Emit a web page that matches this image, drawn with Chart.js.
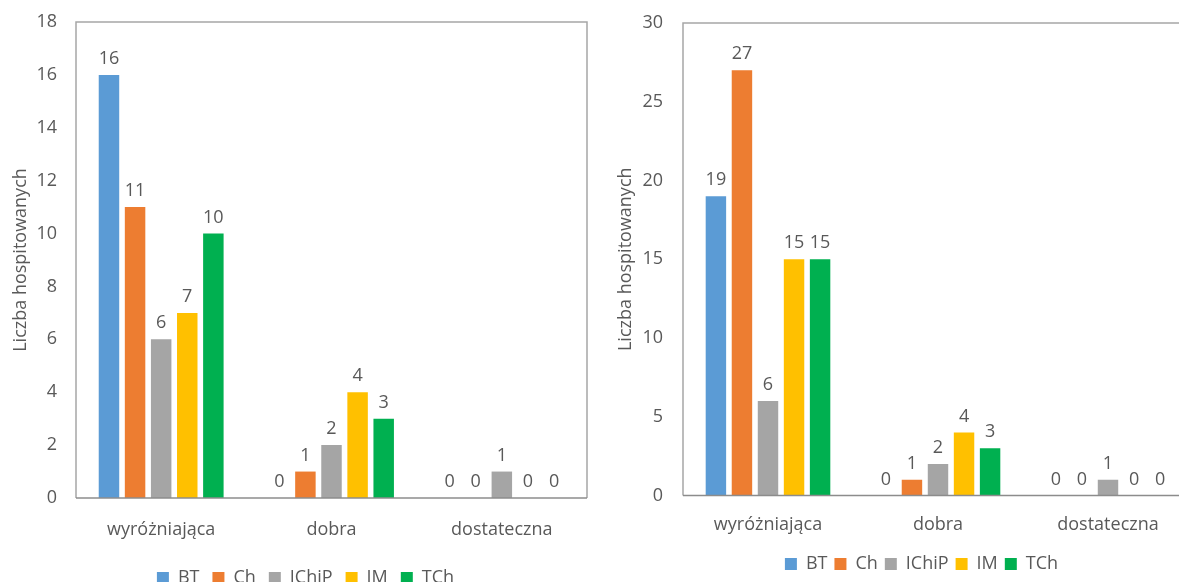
<!DOCTYPE html>
<html>
<head>
<meta charset="utf-8">
<script src="https://cdn.jsdelivr.net/npm/chart.js@4.4.1/dist/chart.umd.min.js"></script>
<style>
  html, body { margin: 0; padding: 0; background: #fff; overflow: hidden; width: 1179px; height: 582px; }
  .box { position: absolute; top: 0; height: 600px; }
  #left { left: 0; width: 590px; }
  #right { left: 600px; width: 593px; }
</style>
</head>
<body>
<div class="box" id="left"><canvas id="chartLeft"></canvas></div>
<div class="box" id="right"><canvas id="chartRight"></canvas></div>
<script>
const categories = ["wyróżniająca", "dobra", "dostateczna"];
const seriesNames = ["BT", "Ch", "IChiP", "IM", "TCh"];
const seriesColors = ["#5B9BD5", "#ED7D31", "#A5A5A5", "#FFC000", "#00B050"];

// one row per series: [wyróżniająca, dobra, dostateczna]
const leftBT = [16, 0, 0];
const leftCh = [11, 1, 0];
const leftIChiP = [6, 2, 1];
const leftIM = [7, 4, 0];
const leftTCh = [10, 3, 0];

const rightBT = [19, 0, 0];
const rightCh = [27, 1, 0];
const rightIChiP = [6, 2, 1];
const rightIM = [15, 4, 0];
const rightTCh = [15, 3, 0];

const leftTicks = [0, 2, 4, 6, 8, 10, 12, 14, 16, 18];
const rightTicks = [0, 5, 10, 15, 20, 25, 30];

const textColor = "#595959";
const font = { family: "'Open Sans', sans-serif", size: 18 };

// value above every bar (no datalabels plugin available offline)
const valueLabels = {
  id: "valueLabels",
  afterDatasetsDraw(chart) {
    const ctx = chart.ctx;
    ctx.save();
    ctx.font = "18px 'Open Sans', sans-serif";
    ctx.fillStyle = textColor;
    ctx.textAlign = "center";
    ctx.textBaseline = "alphabetic";
    chart.data.datasets.forEach((ds, i) => {
      chart.getDatasetMeta(i).data.forEach((bar, j) => {
        ctx.fillText(ds.data[j], bar.x, bar.y - 11);
      });
    });
    ctx.restore();
  }
};

// Excel style plot area frame
const plotFrame = {
  id: "plotFrame",
  afterDatasetsDraw(chart) {
    const { ctx, chartArea: a } = chart;
    ctx.save();
    ctx.lineWidth = 1.5;
    ctx.strokeStyle = "#a6a6a6";
    ctx.beginPath();
    ctx.moveTo(a.left, a.bottom);
    ctx.lineTo(a.left, a.top);
    ctx.lineTo(a.right, a.top);
    ctx.lineTo(a.right, a.bottom);
    ctx.stroke();
    ctx.strokeStyle = "#8c8c8c";
    ctx.beginPath();
    ctx.moveTo(a.left, a.bottom);
    ctx.lineTo(a.right, a.bottom);
    ctx.stroke();
    ctx.restore();
  }
};

// move the legend sideways after layout
const legendShift = {
  id: "legendShift",
  afterLayout(chart, args, opts) {
    chart.legend.left += opts.dx;
    chart.legend.right += opts.dx;
  }
};

function makeChart(id, rows, ticks, cfg) {
  const ctx = document.getElementById(id).getContext("2d");
  return new Chart(ctx, {
    type: "bar",
    data: {
      labels: categories,
      datasets: rows.map((row, i) => ({
        label: seriesNames[i],
        data: row,
        backgroundColor: seriesColors[i],
        borderWidth: 0,
        categoryPercentage: 0.766,
        barPercentage: 0.785
      }))
    },
    options: {
      responsive: true,
      maintainAspectRatio: false,
      animation: false,
      layout: { padding: cfg.padding },
      scales: {
        x: {
          grid: { display: false, drawTicks: false },
          border: { display: false },
          ticks: { color: textColor, font: font, padding: cfg.xPad, maxRotation: 0 },
          afterFit(scale) { scale.height = cfg.xHeight; }
        },
        y: {
          min: ticks[0],
          max: ticks[ticks.length - 1],
          afterBuildTicks(scale) { scale.ticks = ticks.map(v => ({ value: v })); },
          grid: { display: false, drawTicks: false },
          border: { display: false },
          ticks: { color: textColor, font: font, padding: cfg.yPad },
          title: {
            display: true,
            text: "Liczba hospitowanych",
            color: textColor,
            font: font,
            padding: { top: cfg.titlePad, bottom: 0 }
          },
          afterFit(scale) {
            scale.width = cfg.yWidth;
            // let layout.padding alone set the top of the plot
            scale.paddingTop = 0;
            scale.paddingBottom = 0;
          }
        }
      },
      plugins: {
        legend: {
          position: "bottom",
          labels: {
            color: textColor,
            font: font,
            boxWidth: 12,
            boxHeight: 12,
            padding: cfg.legendPad
          }
        },
        tooltip: { enabled: false },
        legendShift: { dx: cfg.legendDx }
      }
    },
    plugins: [plotFrame, valueLabels, legendShift]
  });
}

makeChart("chartLeft", [leftBT, leftCh, leftIChiP, leftIM, leftTCh], leftTicks, {
  padding: { top: 22, left: 0, right: 3, bottom: 3 },
  xHeight: 58, xPad: 21, yPad: 19, yWidth: 76, titlePad: 10,
  legendPad: 13, legendDx: 12
});

makeChart("chartRight", [rightBT, rightCh, rightIChiP, rightIM, rightTCh], rightTicks, {
  padding: { top: 23, left: 0, right: 0, bottom: 17 },
  xHeight: 52.5, xPad: 19, yPad: 20, yWidth: 83, titlePad: 15,
  legendPad: 7, legendDx: 25
});
</script>
</body>
</html>
